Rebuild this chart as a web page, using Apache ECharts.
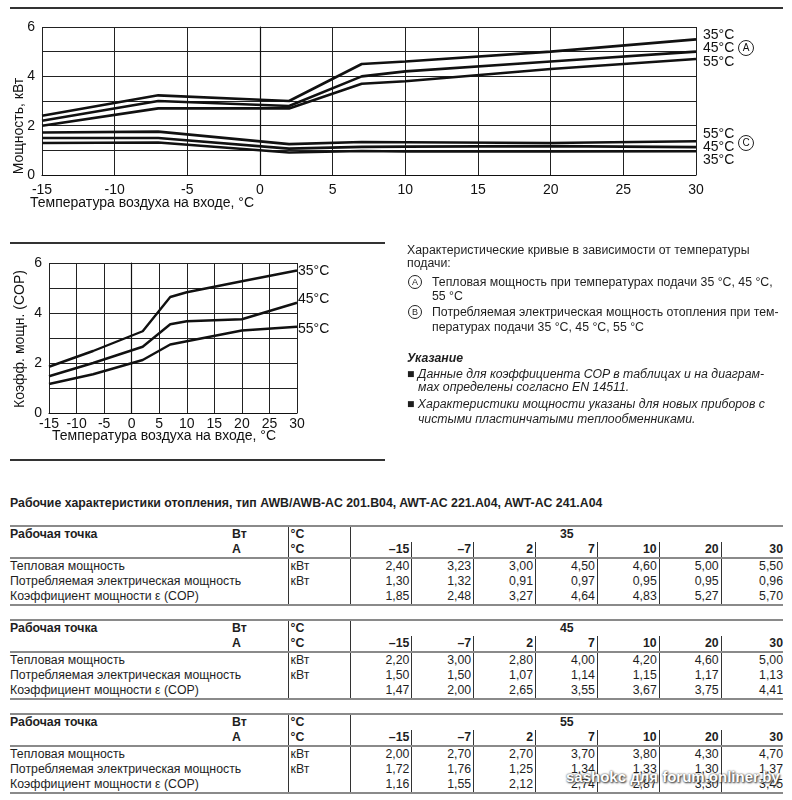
<!DOCTYPE html>
<html>
<head>
<meta charset="utf-8">
<script src="https://cdn.jsdelivr.net/npm/echarts@6/dist/echarts.min.js"></script>
<style>
  html, body { margin: 0; padding: 0; background: #fff; }
  body { width: 792px; height: 800px; position: relative; overflow: hidden;
         font-family: Arial, "Liberation Sans", sans-serif; color: #1e1e1e; }
  #chart { position: absolute; left: 0; top: 0; width: 792px; height: 470px; }
  .tx { position: absolute; font-size: 12.3px; line-height: 15px; white-space: nowrap; }
  .circ { position: absolute; width: 12px; height: 12px; border: 1px solid #222; border-radius: 50%;
          font-size: 9px; line-height: 12px; text-align: center; }
  .it { font-style: italic; }
  .title { position: absolute; left: 10px; top: 496px; font-size: 12.3px; font-weight: bold; white-space: nowrap; }
  table.dt { position: absolute; left: 10px; width: 773px; table-layout: fixed; border-collapse: collapse;
             font-size: 12.3px; border-top: 2px solid #8a8a8a; border-bottom: 2px solid #8a8a8a; }
  table.dt td { padding: 0; height: 15px; line-height: 15px; white-space: nowrap; overflow: visible; }
  table.dt td.b { font-weight: bold; }
  table.dt td.u { border-left: 1px solid #333; padding-left: 2px; }
  table.dt td.v { border-left: 1px solid #333; text-align: right; padding-right: 2px; }
  table.dt td.last { padding-right: 0; }
  table.dt tr.h2 td { border-bottom: 2px solid #8a8a8a; }
  table.dt td.c { text-align: center; border-left: 1px solid #333; }
  .wm { position: absolute; left: 566px; top: 768px; font-size: 15px; font-weight: bold; color: #fff;
        text-shadow: 0 0 2px #333, 1px 1px 2px #333; white-space: nowrap; }
</style>
</head>
<body>
<div id="chart"></div>

<!-- right text block -->
<div class="tx" style="left:407px; top:243px;">Характеристические кривые в зависимости от температуры</div>
<div class="tx" style="left:407px; top:256px;">подачи:</div>
<div class="circ" style="left:408px; top:275px;">A</div>
<div class="tx" style="left:432px; top:275px;">Тепловая мощность при температурах подачи 35 °C, 45 °C,</div>
<div class="tx" style="left:432px; top:289px;">55 °C</div>
<div class="circ" style="left:408px; top:305px;">B</div>
<div class="tx" style="left:432px; top:305px;">Потребляемая электрическая мощность отопления при тем-</div>
<div class="tx" style="left:432px; top:320px;">пературах подачи 35 °C, 45 °C, 55 °C</div>
<div class="tx it" style="left:407px; top:351px; font-weight:bold;">Указание</div>
<div class="tx it" style="left:407px; top:367px;">■ Данные для коэффициента COP в таблицах и на диаграм-</div>
<div class="tx it" style="left:418px; top:380px;">мах определены согласно EN 14511.</div>
<div class="tx it" style="left:407px; top:397px;">■ Характеристики мощности указаны для новых приборов с</div>
<div class="tx it" style="left:418px; top:412px;">чистыми пластинчатыми теплообменниками.</div>

<div class="title">Рабочие характеристики отопления, тип AWB/AWB-AC 201.B04, AWT-AC 221.A04, AWT-AC 241.A04</div>
<div id="tables"></div>
<div class="wm">sashokc для forum.onliner.by</div>

<script>
// ---- data ----
const temps   = [-15, -7, 2, 7, 10, 20, 30];
const supply  = [35, 45, 55];
const heat35  = [2.40, 3.23, 3.00, 4.50, 4.60, 5.00, 5.50];
const heat45  = [2.20, 3.00, 2.80, 4.00, 4.20, 4.60, 5.00];
const heat55  = [2.00, 2.70, 2.70, 3.70, 3.80, 4.30, 4.70];
const power35 = [1.30, 1.32, 0.91, 0.97, 0.95, 0.95, 0.96];
const power45 = [1.50, 1.50, 1.07, 1.14, 1.15, 1.17, 1.13];
const power55 = [1.72, 1.76, 1.25, 1.34, 1.33, 1.30, 1.37];
const cop35   = [1.85, 2.48, 3.27, 4.64, 4.83, 5.27, 5.70];
const cop45   = [1.47, 2.00, 2.65, 3.55, 3.67, 3.75, 4.41];
const cop55   = [1.16, 1.55, 2.12, 2.74, 2.87, 3.30, 3.45];
const rowLabels = ['Тепловая мощность', 'Потребляемая электрическая мощность', 'Коэффициент мощности ε (COP)'];
const rowUnits  = ['кВт', 'кВт', ''];

const heat  = [heat35, heat45, heat55];
const power = [power35, power45, power55];
const cop   = [cop35, cop45, cop55];

// ---- tables ----
const fmt = v => v.toFixed(2).replace('.', ',');
const fmtT = t => String(t).replace('-', '–');
const tableTops = [525, 619, 713];
let html = '';
supply.forEach((s, k) => {
  let h = '<table class="dt" style="top:' + tableTops[k] + 'px"><colgroup><col style="width:218px"><col style="width:60px"><col style="width:62px">';
  for (let i = 0; i < temps.length; i++) h += '<col style="width:61.857px">';
  h += '</colgroup>';
  h += '<tr><td class="b">Рабочая точка</td><td class="b" style="padding-left:4px">Вт</td><td class="b u">°C</td><td class="b c" colspan="' + temps.length + '">' + s + '</td></tr>';
  h += '<tr class="h2"><td></td><td class="b" style="padding-left:4px">A</td><td class="b u">°C</td>';
  temps.forEach((t, i) => { h += '<td class="b v' + (i === temps.length - 1 ? ' last' : '') + '">' + fmtT(t) + '</td>'; });
  h += '</tr>';
  [heat[k], power[k], cop[k]].forEach((arr, r) => {
    h += '<tr><td>' + rowLabels[r] + '</td><td></td><td class="u">' + rowUnits[r] + '</td>';
    arr.forEach((v, i) => { h += '<td class="v' + (i === arr.length - 1 ? ' last' : '') + '">' + fmt(v) + '</td>'; });
    h += '</tr>';
  });
  h += '</table>';
  html += h;
});
document.getElementById('tables').innerHTML = html;

// ---- charts ----
const FONT = 'Arial, "Liberation Sans", sans-serif';
const lineColor = '#111';
const gridLine = { lineStyle: { color: '#222', width: 1 } };
const pairs = arr => temps.map((t, i) => [t, arr[i]]);
const mkSeries = (arr, idx, w) => ({
  type: 'line', xAxisIndex: idx, yAxisIndex: idx, data: pairs(arr), symbol: 'none', silent: true,
  lineStyle: { color: lineColor, width: w }, z: 5
});
const xAx = (idx) => ({
  gridIndex: idx, type: 'value', min: -15, max: 30, interval: 5,
  axisLine: { show: true, lineStyle: { color: '#111', width: 1.2 } }, axisTick: { show: false },
  splitLine: Object.assign({ show: true }, gridLine),
  axisLabel: { color: '#111', fontSize: 14, fontFamily: FONT, margin: idx === 0 ? 8 : 4 }
});
const yAx = (idx) => ({
  gridIndex: idx, type: 'value', min: 0, max: 6, interval: 1,
  axisLine: { show: true, lineStyle: { color: '#111', width: 1.2 } }, axisTick: { show: false },
  splitLine: Object.assign({ show: true }, gridLine),
  axisLabel: { color: '#111', fontSize: 14, fontFamily: FONT, margin: 7, formatter: v => (v % 2 ? '' : String(v)) }
});
const txt = (x, y, text, opts, rot) => ({
  type: 'text', x: x, y: y, rotation: rot || 0, silent: true,
  style: Object.assign({ text: text, fill: '#111', font: '14px ' + FONT, textAlign: 'left', textVerticalAlign: 'middle' }, opts || {})
});
const rule = (x1, y, x2) => ({ type: 'line', silent: true, shape: { x1: x1, y1: y, x2: x2, y2: y }, style: { stroke: '#333', lineWidth: 2 } });
const circ = (cx, cy, letter) => ([
  { type: 'circle', silent: true, shape: { cx: cx, cy: cy, r: 7.5 }, style: { fill: 'none', stroke: '#222', lineWidth: 1 } },
  txt(cx, cy + 0.5, letter, { textAlign: 'center', font: '10px ' + FONT })
]);

const chart = echarts.init(document.getElementById('chart'), null, { renderer: 'canvas' });
chart.setOption({
  animation: false,
  grid: [
    { left: 42, top: 27, width: 654, height: 148 },
    { left: 49, top: 263, width: 248, height: 150 }
  ],
  xAxis: [xAx(0), xAx(1)],
  yAxis: [yAx(0), yAx(1)],
  series: [
    ...heat.map(a => mkSeries(a, 0, 2.6)),
    ...power.map(a => mkSeries(a, 0, 2.6)),
    ...cop.map(a => mkSeries(a, 1, 2.4))
  ],
  graphic: [
    rule(10, 8, 783), rule(10, 243, 385), rule(10, 460, 385),
    txt(19, 126, 'Мощность, кВт', { textAlign: 'center' }, Math.PI / 2),
    txt(30, 203, 'Температура воздуха на входе, °C'),
    txt(703, 35, supply[0] + '°C'), txt(703, 48, supply[1] + '°C'), txt(703, 62, supply[2] + '°C'),
    ...circ(746, 48, 'A'),
    txt(703, 134, supply[2] + '°C'), txt(703, 147, supply[1] + '°C'), txt(703, 160, supply[0] + '°C'),
    ...circ(746, 143, 'C'),
    txt(20, 339, 'Коэфф. мощн. (COP)', { textAlign: 'center' }, Math.PI / 2),
    txt(52, 436, 'Температура воздуха на входе, °C'),
    txt(298, 271, supply[0] + '°C'), txt(298, 299, supply[1] + '°C'), txt(298, 329, supply[2] + '°C')
  ]
});
</script>
</body>
</html>
